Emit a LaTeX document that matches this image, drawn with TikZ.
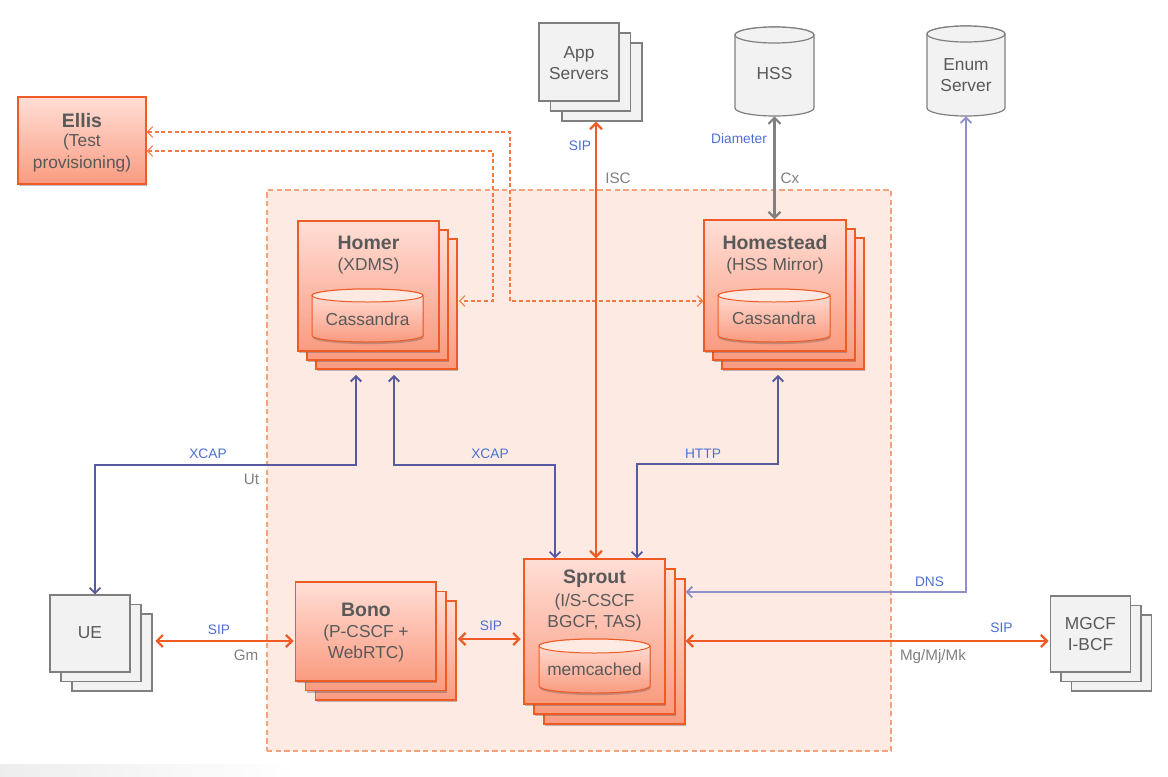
\documentclass[tikz,border=0pt]{standalone}
\usepackage{fontspec}
\setmainfont{Liberation Sans}
\usetikzlibrary{arrows.meta,fit,shadows}
\definecolor{orl}{HTML}{EE5B24}
\definecolor{ortop}{HTML}{FFDED6}
\definecolor{orbot}{HTML}{FA9B80}
\definecolor{cyltop}{HTML}{FFE3DC}
\definecolor{cylcap}{HTML}{FFE9E3}
\definecolor{regfill}{HTML}{FDEBE3}
\definecolor{regline}{HTML}{F4A27C}
\definecolor{dashc}{HTML}{F27A45}
\definecolor{txt}{HTML}{595959}
\definecolor{lblue}{HTML}{4B6FD4}
\definecolor{lgray}{HTML}{808080}
\definecolor{bl}{HTML}{575AA0}
\definecolor{dl}{HTML}{8F90CA}
\definecolor{gline}{HTML}{7F7F7F}
\definecolor{gfill}{HTML}{F2F2F2}
\newcommand\stackbox[8]{%
  \node[#8, fit={({#2+2*#6},{-(#3+2*#7)}) ({#4+2*#6},{-(#5+2*#7)})}] (#1c) {};
  \node[#8, fit={({#2+#6},{-(#3+#7)}) ({#4+#6},{-(#5+#7)})}] (#1b) {};
  \node[#8, fit={(#2,-#3) (#4,-#5)}] (#1) {};
}
\newcommand\cylshape[7]{%
  \pgfmathsetmacro\cylA{#1}%
  \pgfmathsetmacro\cylB{#3}%
  \pgfmathsetmacro\cylT{-(#2)-(#5)}%
  \pgfmathsetmacro\cylD{-(#4)+(#5)}%
  \pgfmathsetmacro\cylM{((#1)+(#3))/2}%
  \pgfmathsetmacro\cylRx{((#3)-(#1))/2*0.75}%
  \pgfmathsetmacro\cylRy{(#5)*0.75}%
  \path[#6] (\cylA,\cylT) -- (\cylA,\cylD) arc[start angle=180,end angle=360,x radius=\cylRx pt,y radius=\cylRy pt] -- (\cylB,\cylT) arc[start angle=0,end angle=180,x radius=\cylRx pt,y radius=\cylRy pt] -- cycle;
  \path[#7] (\cylM,\cylT) ellipse[x radius=\cylRx pt, y radius=\cylRy pt];
}
\begin{document}
\begin{tikzpicture}[x=0.75pt,y=0.75pt,
  >={Straight Barb[length=4.5pt,width=9pt]},
  region/.style={draw=regline, fill=regfill, line width=1.1pt, dash pattern=on 4pt off 2.5pt, inner sep=0pt},
  obox/.style={draw=orl, line width=0.9pt, top color=ortop, bottom color=orbot, inner sep=0pt,
    drop shadow={shadow xshift=1pt, shadow yshift=-1.6pt, opacity=0.35, fill=black!70}},
  gbox/.style={draw=gline, line width=0.9pt, fill=gfill, inner sep=0pt},
  ocylbody/.style={draw=orl, line width=0.75pt, top color=cyltop, bottom color=orbot,
    drop shadow={shadow xshift=0.5pt, shadow yshift=-1.6pt, opacity=0.3, fill=black!70}},
  ocyltop/.style={draw=orl, line width=0.75pt, fill=cylcap},
  gcylbody/.style={draw=gline, line width=0.9pt, fill=gfill},
  gcyltop/.style={draw=gline, line width=0.9pt, fill=gfill},
  shapefit/.style={inner sep=0pt, draw=none},
  ttl/.style={font=\fontsize{14.6}{17}\selectfont\bfseries, text=txt, inner sep=0pt},
  sub/.style={font=\fontsize{13}{15.8}\selectfont, text=txt, inner sep=0pt, align=center},
  blab/.style={font=\fontsize{10.3}{12}\selectfont, text=lblue, inner sep=0pt},
  glab/.style={font=\fontsize{11.4}{13}\selectfont, text=lgray, inner sep=0pt},
  oline/.style={draw=orl, line width=1.7pt, <->},
  bline/.style={draw=bl, line width=1.4pt, <->, >={Straight Barb[length=4pt,width=8pt]}},
  dline/.style={draw=dl, line width=1.4pt, <->, >={Straight Barb[length=4pt,width=8pt]}},
  gyline/.style={draw=lgray, line width=1.7pt, <->},
  dashline/.style={draw=dashc, line width=0.8pt, dash pattern=on 3pt off 2pt, <->, >={Straight Barb[length=4pt,width=8pt]}}
]
\useasboundingbox (0,0) rectangle (1168,-776);
\fill[white] (0,0) rectangle (1168,-776);
\shade[left color=black!7, right color=white] (0,-764) rectangle (300,-776);

% core region
\node[region, fit={(267,-190) (891,-751)}] (core) {};

% Ellis
\node[obox, fit={(18,-97) (146,-184)}] (ellis) {};
\node[ttl] (ellisT) at (82,-121) {Ellis};
\node[sub] (ellisS) at (82,-153) {(Test\\provisioning)};

% App servers
\stackbox{apps}{539}{23}{619}{101}{11.5}{10}{gbox}
\node[sub] (appsT) at (579,-63) {App\\Servers};

% HSS
\cylshape{735}{27}{814}{116}{8}{gcylbody}{gcyltop}
\node[shapefit, fit={(735,-27) (814,-116)}] (hss) {};
\node[sub] (hssT) at (774.5,-74) {HSS};

% Enum server
\cylshape{927}{26}{1005}{116}{8}{gcylbody}{gcyltop}
\node[shapefit, fit={(927,-26) (1005,-116)}] (enum) {};
\node[sub] (enumT) at (966,-75) {Enum\\Server};

% Homer
\stackbox{homer}{298}{221}{439}{351}{9}{9}{obox}
\node[ttl] (homerT) at (368.5,-243) {Homer};
\node[sub] (homerS) at (368.5,-266) {(XDMS)};
\cylshape{312}{289}{423}{342}{6.5}{ocylbody}{ocyltop}
\node[sub] (homerdb) at (367.5,-319) {Cassandra};

% Homestead
\stackbox{hst}{704}{220}{846}{351}{9}{9}{obox}
\node[ttl] (hstT) at (775,-243) {Homestead};
\node[sub] (hstS) at (775,-266) {(HSS Mirror)};
\cylshape{718}{289}{830}{342}{6.5}{ocylbody}{ocyltop}
\node[sub] (hstdb) at (774,-318) {Cassandra};

% Bono
\stackbox{bono}{295.5}{582}{436}{681}{10}{9.5}{obox}
\node[ttl] (bonoT) at (366,-610) {Bono};
\node[sub] (bonoS) at (366,-643.5) {(P-CSCF +\\WebRTC)};

% Sprout
\stackbox{sprout}{524}{559}{665}{704}{10}{10}{obox}
\node[ttl] (sproutT) at (594.5,-579) {Sprout};
\node[sub] (sproutS) at (594.5,-612.5) {(I/S-CSCF\\BGCF, TAS)};
\cylshape{539}{639}{650}{693}{7}{ocylbody}{ocyltop}
\node[sub] (sproutdb) at (594.5,-669) {memcached};

% UE
\stackbox{ue}{50}{595}{130}{672}{11}{9.5}{gbox}
\node[sub] (ueT) at (90,-633) {UE};

% MGCF
\stackbox{mgcf}{1050.5}{596}{1130.5}{672}{10.5}{9.5}{gbox}
\node[sub] (mgcfT) at (1090.5,-634) {MGCF\\I-BCF};

% connectors
\draw[dashline] (ellis.east |- 0,-132) -- (510,-132) -- (510,-301) -- (hst.west |- 0,-301);
\draw[dashline, shorten >=1pt] (ellis.east |- 0,-151) -- (493,-151) -- (493,-301) -- (homerc.east |- 0,-301);

\draw[oline] (596,0 |- appsc.south) -- (596,0 |- sprout.north);
\draw[gyline] (hss.south) -- (hss.south |- hst.north);
\draw[dline] (enum.south) -- (enum.south |- 0,-592) -- (sproutc.east |- 0,-592);

\draw[bline, shorten <=4pt] (356,0 |- homerc.south) -- (356,-465) -- (95,-465) -- (95,0 |- ue.north);
\draw[bline, shorten <=4pt] (394,0 |- homerc.south) -- (394,-465) -- (555,-465) -- (555,0 |- sprout.north);
\draw[bline, shorten >=4pt] (637,0 |- sprout.north) -- (637,-464) -- (778,-464) -- (778,0 |- hstc.south);

\draw[oline, shorten <=2pt, shorten >=1pt] (uec.east |- 0,-641) -- (bono.west |- 0,-641);
\draw[oline, shorten <=1pt, shorten >=2pt] (bonoc.east |- 0,-639) -- (sprout.west |- 0,-639);
\draw[oline, shorten >=1pt] (sproutc.east |- 0,-641) -- (mgcf.west |- 0,-641);

% labels
\node[blab] (l1) at (580,-146) {SIP};
\node[glab] (l2) at (618,-178) {ISC};
\node[blab] (l3) at (739,-139) {Diameter};
\node[glab] (l4) at (790,-178) {Cx};
\node[blab] (l5) at (208,-454) {XCAP};
\node[glab] (l6) at (251.5,-479) {Ut};
\node[blab] (l7) at (490,-454) {XCAP};
\node[blab] (l8) at (703,-454) {HTTP};
\node[blab] (l9) at (219,-630) {SIP};
\node[glab] (l10) at (246,-655) {Gm};
\node[blab] (l11) at (491,-626) {SIP};
\node[blab] (l12) at (929.5,-582) {DNS};
\node[blab] (l13) at (1001.5,-628) {SIP};
\node[glab] (l14) at (933,-657) {Mg/Mj/Mk};
\end{tikzpicture}
\end{document}
